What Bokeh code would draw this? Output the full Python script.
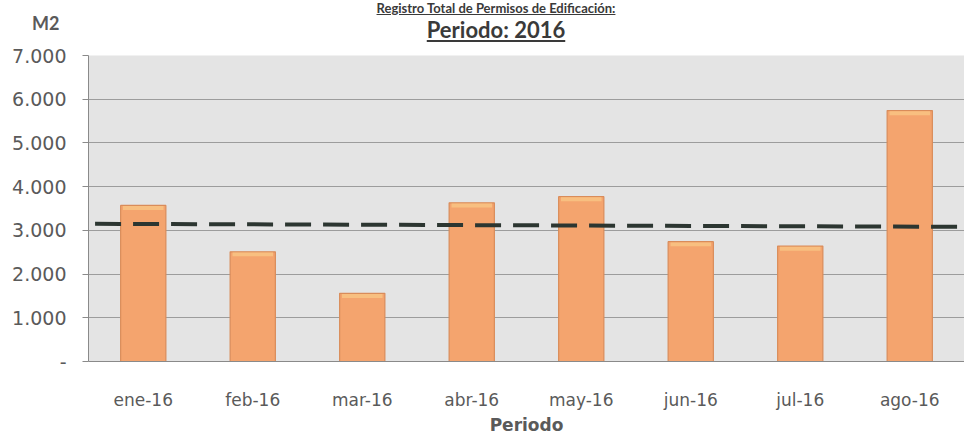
from bokeh.plotting import figure
from bokeh.models import ColumnDataSource, Title, FixedTicker, Range1d, Div
from bokeh.layouts import column
from bokeh.embed import file_html
from bokeh.resources import INLINE

# ---- data ----
meses = ["ene-16", "feb-16", "mar-16", "abr-16", "may-16", "jun-16", "jul-16", "ago-16"]
m2 = [3570, 2510, 1560, 3630, 3770, 2740, 2640, 5740]
tendencia_extremos = [3150, 3080]          # dashed line value at start / end
y_ticks = [0, 1000, 2000, 3000, 4000, 5000, 6000, 7000]
y_tick_labels = ["-", "1.000", "2.000", "3.000", "4.000", "5.000", "6.000", "7.000"]
titulo_1 = "Registro Total de Permisos de Edificación:"
titulo_2 = "Periodo: 2016"
eje_y_titulo = "M2"
eje_x_titulo = "Periodo"

GRAY_TXT = "#5a5a5a"
TITLE_TXT = "#3a3a3a"

header_html = f"""
<div style="position:relative;width:964px;height:45px;overflow:visible;">
  <div style="position:absolute;left:96px;top:0px;width:800px;text-align:center;
              font-family:Lato;font-weight:bold;font-size:13px;line-height:16px;
              color:{TITLE_TXT};text-decoration:underline;white-space:nowrap;">{titulo_1}</div>
  <div style="position:absolute;left:296px;top:19px;width:400px;text-align:center;
              font-family:Lato;font-weight:bold;font-size:22px;line-height:22px;
              color:{TITLE_TXT};text-decoration:underline;white-space:nowrap;">{titulo_2}</div>
  <div style="position:absolute;left:32px;top:12px;
              font-family:Lato;font-weight:bold;font-size:18px;line-height:22px;
              color:{GRAY_TXT};white-space:nowrap;">{eje_y_titulo}</div>
</div>
"""
header = Div(text=header_html, width=964, height=45, margin=0)

p = figure(x_range=meses, y_range=Range1d(0, 7000), width=964, height=389,
           output_backend="svg", toolbar_location=None, margin=0,
           min_border_left=88, min_border_right=0, min_border_top=10, min_border_bottom=0)
p.background_fill_color = "#e4e4e4"
p.border_fill_color = "white"
p.outline_line_color = None

src = ColumnDataSource(dict(mes=meses, m2=m2,
                            hl=[v - 60 for v in m2]))
p.vbar(x="mes", top="m2", width=0.413, source=src,
       fill_color="#f4a46e", line_color="#d98c5a", line_width=1.2)
p.rect(x="mes", y="hl", width=0.37, height=90, source=src,
       fill_color="#f8bf80", line_color=None)

# dashed reference line
p.line(x=[(meses[0], -0.44), (meses[-1], 0.5)], y=tendencia_extremos,
       line_color="#2c3631", line_width=4, line_dash="26 12")

# y axis
p.yaxis.ticker = FixedTicker(ticks=y_ticks)
p.yaxis.major_label_overrides = {t: l for t, l in zip(y_ticks, y_tick_labels)}
p.yaxis.major_label_text_font = "DejaVu Sans"
p.yaxis.major_label_text_font_size = "19px"
p.yaxis.major_label_text_color = GRAY_TXT
p.yaxis.major_tick_in = 0
p.yaxis.major_tick_out = 6
p.yaxis.minor_tick_line_color = None
p.yaxis.major_tick_line_color = "#8a8a8a"
p.yaxis.axis_line_color = "#8a8a8a"
p.yaxis.major_label_standoff = 16

# x axis
p.xaxis.major_label_text_font = "DejaVu Sans"
p.xaxis.major_label_text_font_size = "17px"
p.xaxis.major_label_text_color = GRAY_TXT
p.xaxis.major_tick_line_color = None
p.xaxis.major_tick_out = 0
p.xaxis.axis_line_color = "#8a8a8a"
p.xaxis.major_label_standoff = 28

p.add_layout(Title(text=eje_x_titulo, align="center", text_font="DejaVu Sans",
                   text_font_size="17px", text_font_style="bold", text_color=GRAY_TXT,
                   standoff=0), "below")

p.xgrid.grid_line_color = None
p.ygrid.grid_line_color = "#9c9c9c"
p.ygrid.grid_line_width = 1

layout = column(header, p, spacing=0, margin=0)
open("out.html", "w").write(file_html(layout, INLINE))
